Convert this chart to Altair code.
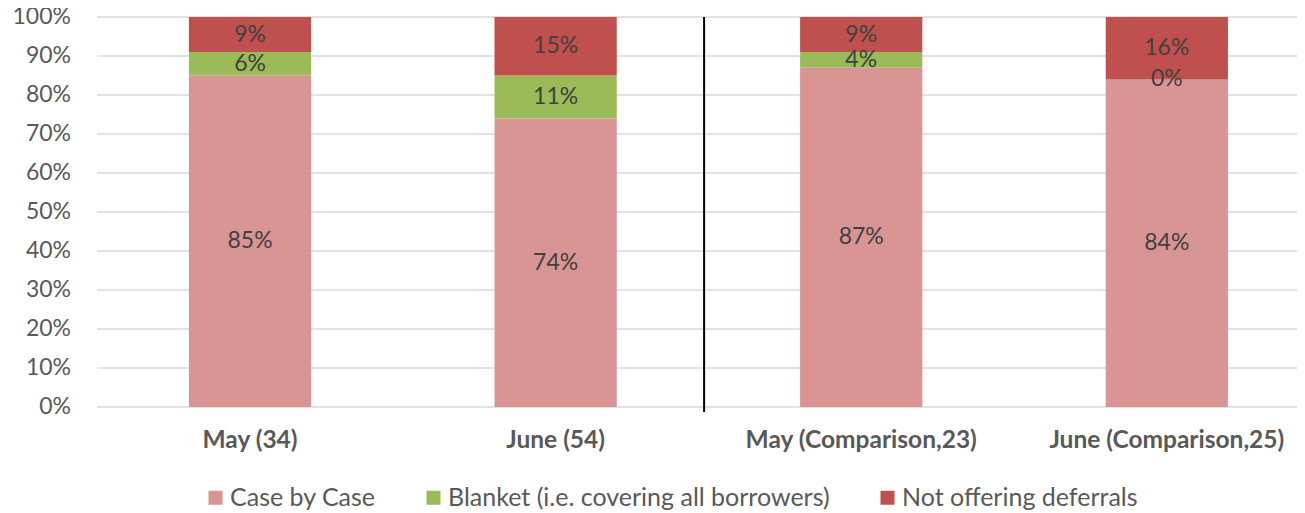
import altair as alt
import pandas as pd

periods = ["May (34)", "June (54)", "May (Comparison,23)", "June (Comparison,25)"]
series = ["Case by Case", "Blanket (i.e. covering all borrowers)", "Not offering deferrals"]
colors = ["#D99594", "#9BBB59", "#C0504D"]
case_by_case = [0.85, 0.74, 0.87, 0.84]
blanket = [0.06, 0.11, 0.04, 0.00]
not_offering = [0.09, 0.15, 0.09, 0.16]
y_ticks = [0.0, 0.1, 0.2, 0.3, 0.4, 0.5, 0.6, 0.7, 0.8, 0.9, 1.0]

rows = []
for i, p in enumerate(periods):
    for j, (s, vals) in enumerate(zip(series, [case_by_case, blanket, not_offering])):
        rows.append({"period": p, "series": s, "idx": j, "value": vals[i]})
df = pd.DataFrame(rows)
ticks_df = pd.DataFrame({"t": y_ticks})

FONT = "Lato"
W, H = 1200, 390

xscale = alt.Scale(domain=periods, paddingInner=0.6, paddingOuter=0.2634, align=0.571)
yscale = alt.Scale(domain=[0, 1], nice=False)

xaxis = alt.Axis(title=None, ticks=False, domain=False, labelAngle=0,
                 labelFont=FONT, labelFontSize=24.5, labelFontWeight="bold",
                 labelColor="#595959", labelPadding=21, grid=False, labelLimit=0)
yaxis = alt.Axis(title=None, ticks=False, domain=False, grid=False, labels=False)

# gridlines and y labels drawn from the tick list
grid = alt.Chart(ticks_df).mark_rule(color="#D9D9D9", strokeWidth=1.5).encode(
    y=alt.Y("t:Q", scale=yscale, axis=yaxis),
    x=alt.value(0),
    x2=alt.value(W),
)
ylabels = alt.Chart(ticks_df).mark_text(
    font=FONT, fontSize=23, color="#595959", align="right", baseline="middle"
).encode(
    y=alt.Y("t:Q", scale=yscale, axis=yaxis),
    x=alt.value(-26),
    text=alt.Text("t:Q", format=".0%"),
)

base = alt.Chart(df)

bars = base.mark_bar().encode(
    x=alt.X("period:N", sort=periods, scale=xscale, axis=xaxis),
    y=alt.Y("value:Q", stack="zero", scale=yscale, axis=yaxis),
    color=alt.Color("series:N", sort=series,
                    scale=alt.Scale(domain=series, range=colors),
                    legend=alt.Legend(title=None, orient="none", direction="horizontal",
                                      legendX=106, legendY=468, symbolType="square",
                                      symbolSize=196, symbolStrokeWidth=0,
                                      labelFont=FONT, labelFontSize=25,
                                      labelColor="#595959", labelOffset=2,
                                      columnPadding=45, labelLimit=0)),
    order=alt.Order("idx:Q", sort="ascending"),
)

labels = base.transform_stack(
    stack="value", as_=["v0", "v1"], groupby=["period"],
    sort=[alt.SortField("idx", order="ascending")]
).transform_calculate(mid="(datum.v0 + datum.v1) / 2").mark_text(
    font=FONT, fontSize=23, color="#404040", baseline="middle", align="center"
).encode(
    x=alt.X("period:N", sort=periods, scale=xscale, axis=xaxis),
    y=alt.Y("mid:Q", scale=yscale, axis=yaxis),
    text=alt.Text("value:Q", format=".0%"),
)

sep = alt.Chart(pd.DataFrame({"p": [periods[2]]})).mark_rule(
    color="black", strokeWidth=2, xOffset=-96
).encode(
    x=alt.X("p:N", sort=periods, scale=xscale, bandPosition=0, axis=xaxis),
    y=alt.value(0),
    y2=alt.value(H + 5),
)

chart = alt.layer(grid, ylabels, bars, labels, sep).properties(
    width=W, height=H,
    autosize=alt.AutoSizeParams(type="none"),
    padding={"left": 89, "top": 9, "right": 0, "bottom": 106},
).configure_view(stroke=None)

chart.save("out.html", embed_options={"renderer": "svg", "actions": False})
